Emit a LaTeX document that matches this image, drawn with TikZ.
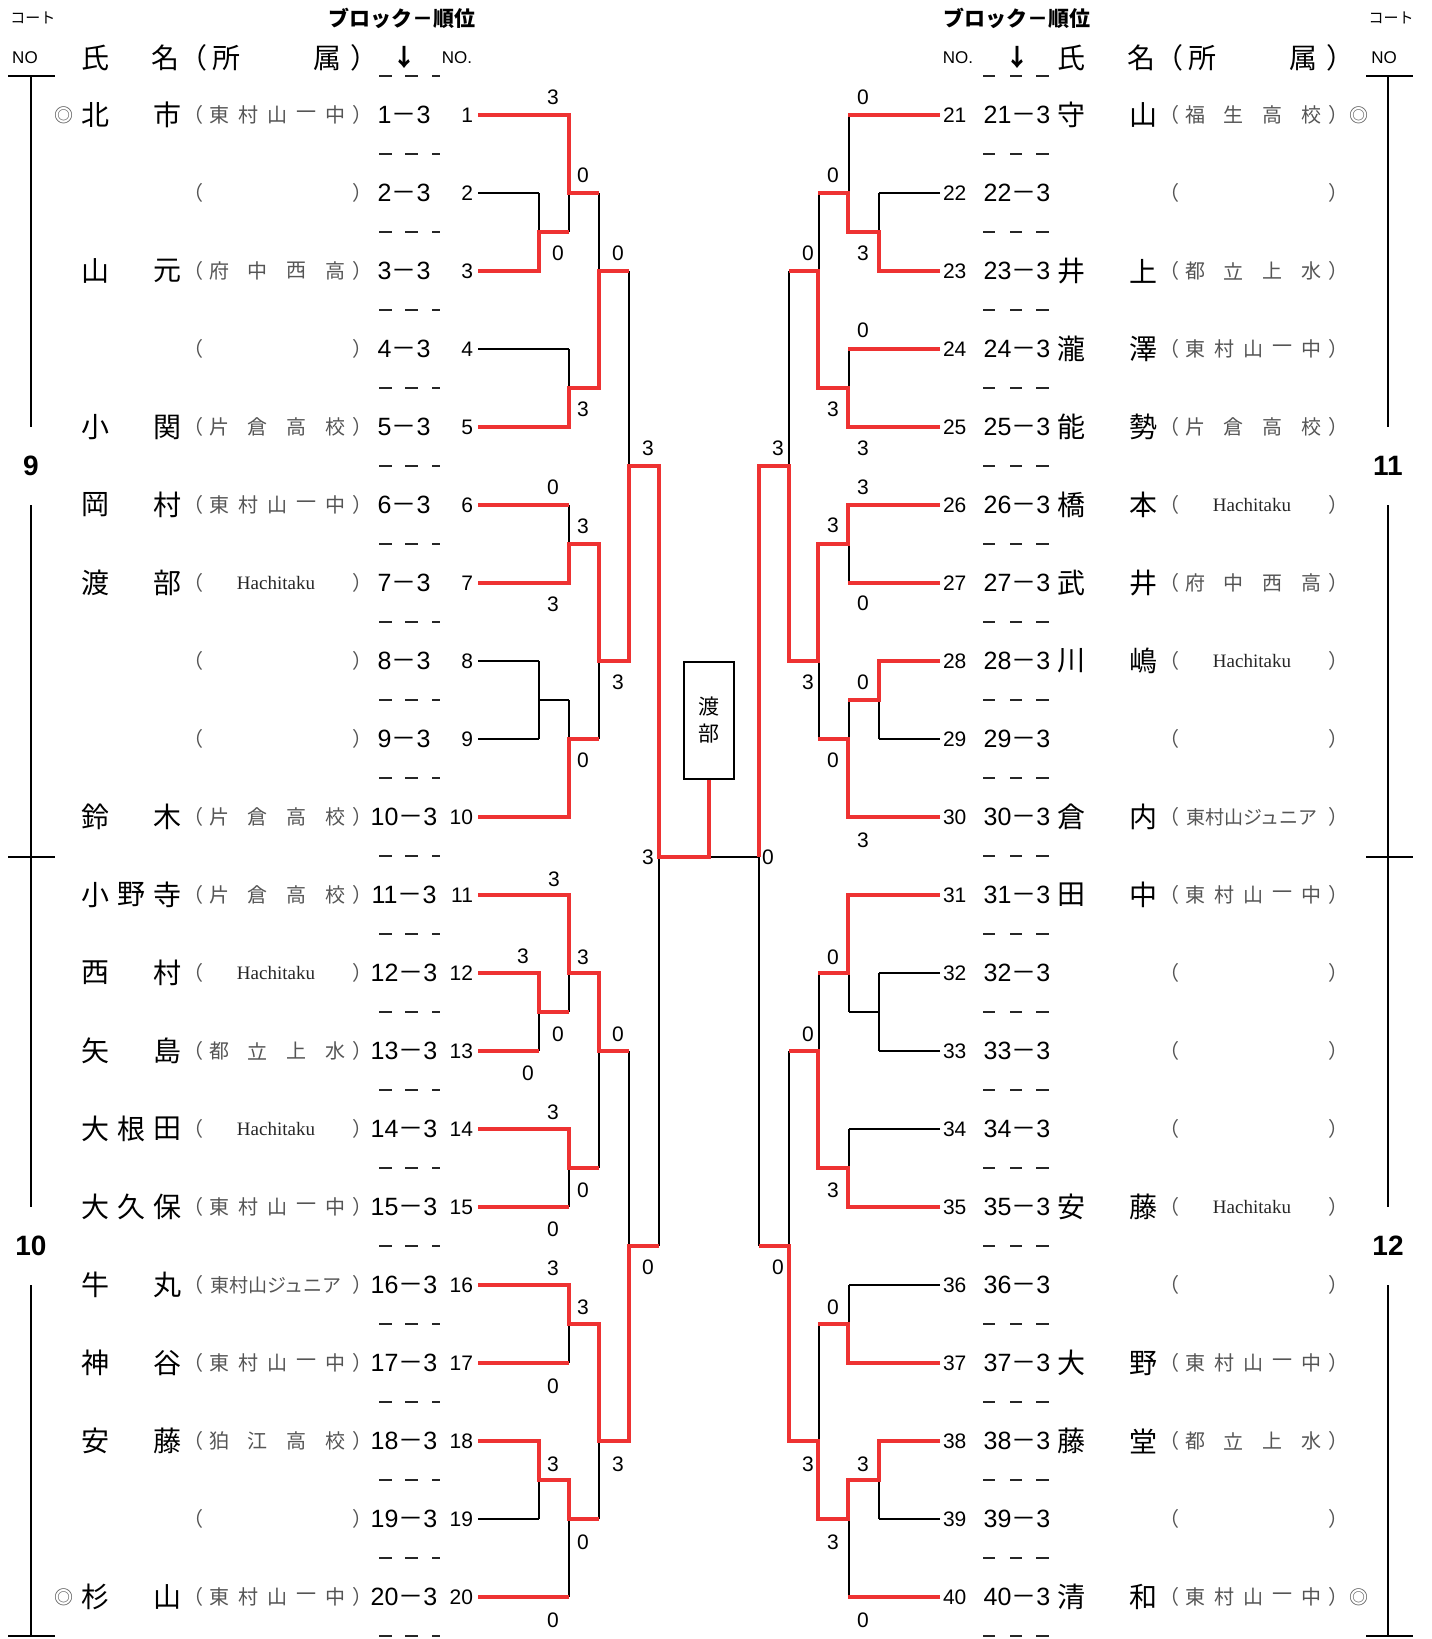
\documentclass[tikz,border=0pt]{standalone}
\usepackage{fontspec}
\setmainfont{Liberation Sans}
\newfontfamily\cjk{Noto Sans CJK JP}
\newfontfamily\hachi{Liberation Serif}
\usetikzlibrary{positioning}
\definecolor{brk}{RGB}{238,50,50}
\definecolor{affgray}{RGB}{85,85,85}

% affiliation, spaced over the cell
\newcommand{\affrow}[4]{%
  \node[aff] at (219,0) {#1}; \node[aff] at (257.7,0) {#2};
  \node[aff] at (296.3,0) {#3}; \node[aff] at (335,0) {#4};}
\newcommand{\affrowv}[5]{%
  \node[aff] at (219,0) {#1}; \node[aff] at (248,0) {#2}; \node[aff] at (277,0) {#3};
  \node[aff] at (306,0) {#4}; \node[aff] at (335,0) {#5};}
\newcommand{\affhm}{\affrowv{東}{村}{山}{一}{中}}
\newcommand{\afffc}{\affrow{府}{中}{西}{高}}
\newcommand{\affkt}{\affrow{片}{倉}{高}{校}}
\newcommand{\affjo}{\affrow{都}{立}{上}{水}}
\newcommand{\affko}{\affrow{狛}{江}{高}{校}}
\newcommand{\afffu}{\affrow{福}{生}{高}{校}}
\newcommand{\affha}{\node[aff, text=black!85, font=\hachi\fontsize{9.5}{9.5}\selectfont] at (276,0) {Hachitaku};}
\newcommand{\affjr}{\node[aff, font=\cjk\fontsize{9.5}{9.5}\selectfont] at (276,0) {東村山ジュニア};}
\newcommand{\affno}{}

% one quarter of the draw (ten players)
\newcommand{\bracketquarter}{%
  \foreach \r/\xe in {1/569,2/539,3/539,4/569,5/569,6/569,7/569,8/539,9/539,10/569}{
    \pgfmathtruncatemacro\yy{115+78*(\r-1)}
    \draw (478,\yy) -- (\xe,\yy);
  }
  \draw (539,193) -- (539,271) (539,232) -- (569,232);
  \draw (569,115) -- (569,232) (569,193) -- (599,193);
  \draw (569,349) -- (569,427) (569,388) -- (599,388);
  \draw (599,193) -- (599,388) (599,271) -- (629,271);
  \draw (569,505) -- (569,583) (569,544) -- (599,544);
  \draw (539,661) -- (539,739) (539,700) -- (569,700);
  \draw (569,700) -- (569,817) (569,739) -- (599,739);
  \draw (599,544) -- (599,739) (599,661) -- (629,661);
  \draw (629,271) -- (629,661) (629,466) -- (659,466);
}

\begin{document}
\begin{tikzpicture}[x=0.5pt, y=-0.5pt, line width=1pt,
  nm/.style={font=\cjk\fontsize{14}{14}\selectfont, inner sep=0pt},
  hd/.style={font=\cjk\fontsize{14}{14}\selectfont, inner sep=0pt},
  aff/.style={font=\cjk\fontsize{10}{10}\selectfont, text=affgray, inner sep=0pt},
  rank/.style={font=\fontsize{12.5}{12.5}\selectfont, inner sep=0pt},
  num/.style={font=\fontsize{10.5}{10.5}\selectfont, inner sep=0pt},
  score/.style={font=\fontsize{10.5}{10.5}\selectfont, inner sep=0pt},
  small/.style={font=\fontsize{8.5}{8.5}\selectfont, inner sep=0pt},
  court/.style={font=\bfseries\fontsize{14}{14}\selectfont, inner sep=0pt, minimum height=38pt},
  sep/.style={line width=1.3pt, black!85},
  win/.style={draw=brk, line width=2pt}]
\useasboundingbox (0,0) rectangle (1431,1639);

% header
\node[small, font=\cjk\fontsize{7.5}{7.5}\selectfont] (courtL) at (33,18) {コート};
\node[small, font=\cjk\fontsize{7.5}{7.5}\selectfont] (courtR) at (1391,18) {コート};
\node[small] (noL) at (25,58) {NO};
\node[small] (noR) at (1384,58) {NO};
\node[hd, font=\cjk\bfseries\fontsize{10.5}{10.5}\selectfont] (blockL) at (402,18) {ブロック－順位};
\node[hd, font=\cjk\bfseries\fontsize{10.5}{10.5}\selectfont] (blockR) at (1017,18) {ブロック－順位};
\node[hd, font=\cjk\bfseries\fontsize{12}{12}\selectfont] (arrL) at (404,57) {↓};
\node[hd, font=\cjk\bfseries\fontsize{12}{12}\selectfont] (arrR) at (1017,57) {↓};
\node[small] (nodotL) at (457,58) {NO.};
\node[small] (nodotR) at (958,58) {NO.};
\foreach \t/\x [count=\i] in {氏/95,名/165,（/193,所/226,属/327,）/364}{
  \node[hd] (hdL\i) at (\x,58) {\t};
  \node[hd] (hdR\i) at (\x+976,58) {\t};
}

% separators
\foreach \k in {0,...,20}{
  \pgfmathtruncatemacro\yy{76+78*\k}
  \draw[sep] (379,\yy) -- (392,\yy) (405,\yy) -- (418,\yy) (432,\yy) -- (440,\yy)
             (983,\yy) -- (995,\yy) (1010,\yy) -- (1022,\yy) (1036,\yy) -- (1049,\yy);
}

% court marks
\node[court] (c9) at (31,466) {9};
\node[court] (c10) at (31,1246) {10};
\node[court] (c11) at (1388,466) {11};
\node[court] (c12) at (1388,1246) {12};
\draw (8,76) -- (55,76) (8,857) -- (55,857) (8,1636) -- (55,1636);
\draw (31,76) -- (c9.north) (c9.south) -- (c10.north) (c10.south) -- (31,1636);
\draw (1366,76) -- (1413,76) (1366,857) -- (1413,857) (1366,1636) -- (1413,1636);
\draw (1388,76) -- (c11.north) (c11.south) -- (c12.north) (c12.south) -- (1388,1636);

% players
\foreach \r/\na/\nb/\nc/\af in {1/北/{}/市/hm, 2/{}/{}/{}/no, 3/山/{}/元/fc, 4/{}/{}/{}/no,
    5/小/{}/関/kt, 6/岡/{}/村/hm, 7/渡/{}/部/ha, 8/{}/{}/{}/no, 9/{}/{}/{}/no,
    10/鈴/{}/木/kt, 11/小/野/寺/kt, 12/西/{}/村/ha, 13/矢/{}/島/jo, 14/大/根/田/ha,
    15/大/久/保/hm, 16/牛/{}/丸/jr, 17/神/{}/谷/hm, 18/安/{}/藤/ko, 19/{}/{}/{}/no,
    20/杉/{}/山/hm,
    21/守/{}/山/fu, 22/{}/{}/{}/no, 23/井/{}/上/jo, 24/瀧/{}/澤/hm, 25/能/{}/勢/kt,
    26/橋/{}/本/ha, 27/武/{}/井/fc, 28/川/{}/嶋/ha, 29/{}/{}/{}/no, 30/倉/{}/内/jr,
    31/田/{}/中/hm, 32/{}/{}/{}/no, 33/{}/{}/{}/no, 34/{}/{}/{}/no, 35/安/{}/藤/ha,
    36/{}/{}/{}/no, 37/大/{}/野/hm, 38/藤/{}/堂/jo, 39/{}/{}/{}/no, 40/清/{}/和/hm}{
  \ifnum\r>20
    \pgfmathtruncatemacro\yy{115+78*(\r-21)}
    \def\xo{976}\def\xr{1017}
    \coordinate (s\r) at (940,\yy);
    \node[num, anchor=west] (no\r) at (942,\yy) {\r};
  \else
    \pgfmathtruncatemacro\yy{115+78*(\r-1)}
    \def\xo{0}\def\xr{404}
    \coordinate (s\r) at (478,\yy);
    \node[num, anchor=east] (no\r) at (474,\yy) {\r};
  \fi
  \node[rank] (rk\r) at (\xr,\yy) {\r{\cjk －}3};
  \begin{scope}[shift={(\xo,\yy)}]
    \node[nm] (na\r) at (95,0) {\na};
    \node[nm] (nb\r) at (131,0) {\nb};
    \node[nm] (nc\r) at (167,0) {\nc};
    \node[aff] (po\r) at (193,0) {（};
    \node[aff] (pc\r) at (362,0) {）};
    \csname aff\af\endcsname
  \end{scope}
}
\foreach \x/\y [count=\i] in {64/115,64/1597,1359/115,1359/1597}
  \node[aff, font=\cjk\fontsize{9.5}{9.5}\selectfont] (seed\i) at (\x,\y) {◎};

% the draw, black
\bracketquarter
\begin{scope}[shift={(0,780)}]\bracketquarter\end{scope}
\begin{scope}[shift={(1418,0)}, xscale=-1]\bracketquarter\end{scope}
\begin{scope}[shift={(1418,780)}, xscale=-1]\bracketquarter\end{scope}
\draw (659,466) -- (659,1246) (759,466) -- (759,1246) (659,857) -- (759,857);

% final
\node[draw, line width=1pt, inner sep=0pt, minimum width=25pt, minimum height=58.5pt,
  align=center, font=\cjk\fontsize{10.5}{13.5}\selectfont] (champ) at (709,720.5) {渡\\部};

% winners, red
\draw[win] (s1) -| (569,193) -- (599,193);
\draw[win] (s3) -| (539,232) -- (569,232);
\draw[win] (s5) -| (569,388) -| (599,271) -- (629,271);
\draw[win] (s6) -- (569,505);
\draw[win] (s7) -| (569,544) -| (599,661) -| (629,466) -| (659,857) -| (champ.south);
\draw[win] (s10) -| (569,739) -- (599,739);
\draw[win] (s11) -| (569,973) -| (599,1051) -- (629,1051);
\draw[win] (s12) -| (539,1012) -- (569,1012);
\draw[win] (s13) -- (539,1051);
\draw[win] (s14) -| (569,1168) -- (599,1168);
\draw[win] (s15) -- (569,1207);
\draw[win] (s16) -| (569,1324) -| (599,1441) -| (629,1246) -- (659,1246);
\draw[win] (s17) -- (569,1363);
\draw[win] (s18) -| (539,1480) -| (569,1519) -- (599,1519);
\draw[win] (s20) -- (569,1597);

\draw[win] (s21) -- (848,115);
\draw[win] (s23) -| (879,232) -| (848,193) -- (818,193);
\draw[win] (s24) -- (848,349);
\draw[win] (s25) -| (848,388) -| (818,271) -- (789,271);
\draw[win] (s26) -| (848,544) -| (818,661) -| (789,466) -| (759,857);
\draw[win] (s27) -- (848,583);
\draw[win] (s28) -| (879,700) -- (848,700);
\draw[win] (s30) -| (848,739) -- (818,739);
\draw[win] (s31) -| (848,973) -- (818,973);
\draw[win] (s35) -| (848,1168) -| (818,1051) -- (789,1051);
\draw[win] (s37) -| (848,1324) -- (818,1324);
\draw[win] (s38) -| (879,1480) -| (848,1519) -| (818,1441) -| (789,1246) -- (759,1246);
\draw[win] (s40) -- (848,1597);

% scores
\foreach \x/\y/\s [count=\i] in {553/97/3, 583/175/0, 558/253/0, 618/253/0, 583/409/3,
    648/448/3, 553/487/0, 583/526/3, 553/604/3, 618/682/3, 583/760/0, 648/857/3,
    554/879/3, 523/956/3, 583/957/3, 558/1034/0, 618/1034/0, 528/1073/0, 553/1112/3,
    583/1190/0, 553/1229/0, 648/1267/0, 553/1268/3, 583/1307/3, 553/1386/0, 553/1464/3,
    618/1464/3, 583/1542/0, 553/1620/0,
    863/97/0, 833/175/0, 863/253/3, 808/253/0, 863/330/0, 833/409/3, 863/448/3,
    778/448/3, 863/487/3, 833/525/3, 863/603/0, 808/682/3, 863/682/0, 833/760/0,
    863/840/3, 768/857/0, 833/957/0, 808/1034/0, 833/1190/3, 778/1267/0, 833/1307/0,
    808/1464/3, 863/1464/3, 833/1542/3, 863/1620/0}
  \node[score] (sc\i) at (\x,\y) {\s};
\end{tikzpicture}
\end{document}
